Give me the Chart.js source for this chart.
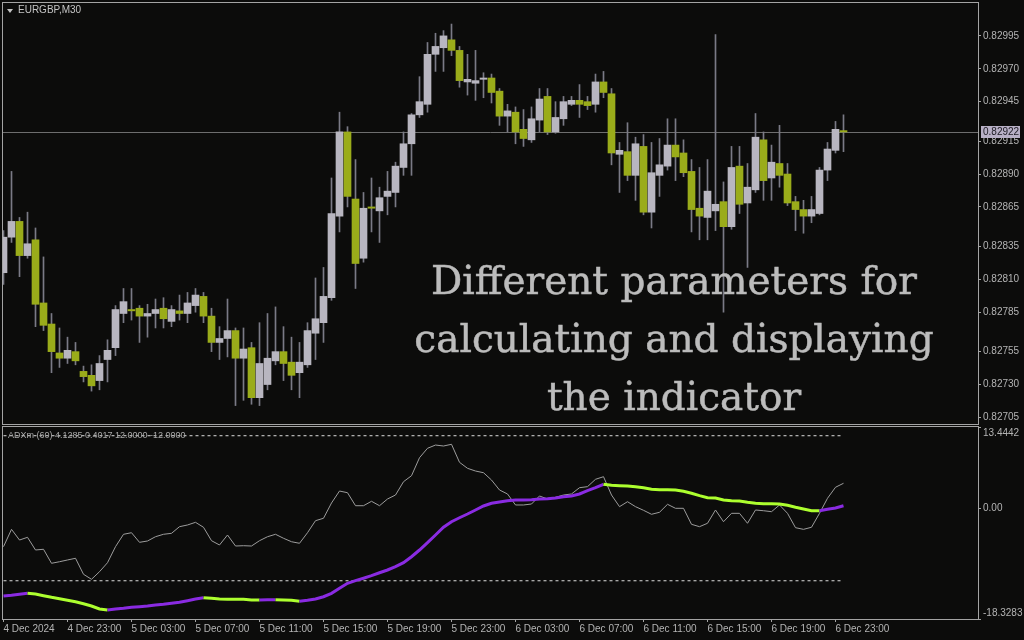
<!DOCTYPE html>
<html>
<head>
<meta charset="utf-8">
<script src="https://cdn.jsdelivr.net/npm/chart.js@4.4.1/dist/chart.umd.min.js"></script>
<style>
  html, body { margin: 0; padding: 0; background: #0c0c0b; }
  #wrap { position: relative; width: 1024px; height: 640px; overflow: hidden; background: #0c0c0b; }
  canvas { position: absolute; left: 0; }
  #main { top: 0; }
  #ind { top: 425px; }
  .sym { position: absolute; left: 18px; top: 4px; font: 10px 'Liberation Sans', Arial, sans-serif; line-height: 12px; color: #c4c4c4; }
  .tri { position: absolute; left: 7px; top: 9px; width: 0; height: 0; border-left: 3px solid transparent; border-right: 3px solid transparent; border-top: 4px solid #c4c4c4; }
  .indlbl { position: absolute; left: 8px; top: 430px; font: 9px 'Liberation Sans', Arial, sans-serif; line-height: 11px; color: #a8a8a8; }
  .caption { position: absolute; left: 374px; top: 252px; width: 600px; text-align: center; font: 39px 'DejaVu Serif', serif; line-height: 58px; color: #bcbcbc; -webkit-text-stroke: 0.5px #bcbcbc; }
</style>
</head>
<body>
<div id="wrap">
  <canvas id="main" width="1024" height="425"></canvas>
  <canvas id="ind" width="1024" height="215"></canvas>
  <div class="tri"></div>
  <div class="sym">EURGBP,M30</div>
  <div class="indlbl">ADXm (60) 4.1285 0.4017 12.0000 -12.0000</div>
  <div class="caption">Different parameters for<br>calculating and displaying<br>the indicator</div>
</div>
<script>
// EURGBP M30 candles, 4 Dec 19:00 .. 6 Dec 23:30
const opens = [
  0.82815,0.82842,0.82854,0.82828,0.82840,0.82792,0.82776,0.82754,0.82750,0.82755,
  0.82740,0.82737,0.82733,0.82749,0.82758,0.82784,0.82787,0.82788,0.82782,0.82784,
  0.82788,0.82778,0.82786,0.82784,0.82790,0.82797,0.82782,0.82762,0.82765,0.82771,
  0.82750,0.82758,0.82720,0.82730,0.82748,0.82755,0.82747,0.82739,0.82745,0.82769,
  0.82777,0.82796,0.82858,0.82922,0.82871,0.82826,0.82865,0.82862,0.82873,0.82876,
  0.82895,0.82913,0.82935,0.82943,0.82981,0.82986,0.82992,0.82984,0.82960,0.82959,
  0.82962,0.82963,0.82953,0.82934,0.82937,0.82924,0.82916,0.82931,0.82949,0.82922,
  0.82932,0.82943,0.82946,0.82945,0.82943,0.82960,0.82951,0.82905,0.82907,0.82889,
  0.82911,0.82861,0.82889,0.82896,0.82912,0.82906,0.82892,0.82864,0.82857,0.82862,
  0.82869,0.82850,0.82896,0.82868,0.82878,0.82916,0.82887,0.82898,0.82890,0.82869,
  0.82863,0.82858,0.82860,0.82893,0.82908,0.82923
];
const highs = [
  0.82847,0.82892,0.82857,0.82861,0.82849,0.82827,0.82784,0.82773,0.82766,0.82762,
  0.82744,0.82745,0.82752,0.82764,0.82790,0.82803,0.82803,0.82790,0.82791,0.82795,
  0.82796,0.82790,0.82798,0.82800,0.82803,0.82800,0.82788,0.82774,0.82795,0.82773,
  0.82773,0.82762,0.82777,0.82784,0.82789,0.82774,0.82766,0.82762,0.82777,0.82811,
  0.82819,0.82887,0.82937,0.82926,0.82901,0.82876,0.82887,0.82880,0.82892,0.82899,
  0.82922,0.82936,0.82964,0.82990,0.82997,0.82999,0.83004,0.82987,0.82981,0.82984,
  0.82967,0.82966,0.82955,0.82943,0.82941,0.82939,0.82941,0.82955,0.82955,0.82945,
  0.82949,0.82949,0.82958,0.82949,0.82966,0.82968,0.82955,0.82914,0.82929,0.82918,
  0.82920,0.82914,0.82917,0.82932,0.82932,0.82916,0.82901,0.82895,0.82901,0.82996,
  0.82884,0.82911,0.82911,0.82898,0.82936,0.82922,0.82912,0.82927,0.82898,0.82873,
  0.82870,0.82873,0.82895,0.82914,0.82930,0.82935
];
const lows = [
  0.82806,0.82838,0.82812,0.82826,0.82774,0.82771,0.82739,0.82743,0.82746,0.82745,
  0.82732,0.82725,0.82726,0.82732,0.82752,0.82777,0.82779,0.82762,0.82766,0.82773,
  0.82773,0.82774,0.82779,0.82777,0.82785,0.82777,0.82755,0.82749,0.82751,0.82714,
  0.82718,0.82715,0.82714,0.82726,0.82745,0.82733,0.82726,0.82720,0.82743,0.82749,
  0.82762,0.82794,0.82846,0.82865,0.82803,0.82823,0.82846,0.82838,0.82859,0.82865,
  0.82889,0.82889,0.82933,0.82937,0.82968,0.82968,0.82980,0.82956,0.82950,0.82946,
  0.82948,0.82944,0.82927,0.82922,0.82913,0.82911,0.82914,0.82922,0.82920,0.82921,
  0.82927,0.82942,0.82933,0.82939,0.82937,0.82948,0.82897,0.82876,0.82885,0.82870,
  0.82859,0.82849,0.82873,0.82893,0.82885,0.82888,0.82846,0.82840,0.82840,0.82847,
  0.82785,0.82848,0.82860,0.82819,0.82876,0.82870,0.82870,0.82880,0.82866,0.82847,
  0.82845,0.82853,0.82859,0.82885,0.82906,0.82907
];
const closes = [
  0.82842,0.82854,0.82828,0.82837,0.82791,0.82775,0.82755,0.82750,0.82756,0.82748,
  0.82736,0.82729,0.82746,0.82756,0.82787,0.82793,0.82786,0.82782,0.82784,0.82787,
  0.82780,0.82787,0.82784,0.82792,0.82798,0.82782,0.82762,0.82765,0.82771,0.82750,
  0.82757,0.82720,0.82746,0.82750,0.82755,0.82746,0.82737,0.82747,0.82771,0.82780,
  0.82797,0.82860,0.82922,0.82873,0.82822,0.82864,0.82864,0.82872,0.82877,0.82896,
  0.82913,0.82935,0.82945,0.82981,0.82987,0.82995,0.82984,0.82961,0.82962,0.82961,
  0.82963,0.82952,0.82934,0.82938,0.82922,0.82917,0.82932,0.82947,0.82922,0.82933,
  0.82945,0.82946,0.82943,0.82942,0.82960,0.82952,0.82906,0.82908,0.82889,0.82913,
  0.82861,0.82891,0.82897,0.82912,0.82903,0.82891,0.82863,0.82858,0.82877,0.82867,
  0.82850,0.82895,0.82867,0.82880,0.82918,0.82885,0.82899,0.82889,0.82868,0.82863,
  0.82858,0.82863,0.82893,0.82909,0.82924,0.82922
];

// ADXm(60) sub window: thin line and the thick coloured line
const diLine = [
  -6.36,-3.49,-5.26,-4.81,-6.91,-6.79,-9.11,-8.85,-8.56,-8.28,
  -10.93,-11.76,-10.50,-9.01,-6.36,-4.31,-4.05,-5.64,-5.42,-4.71,
  -4.31,-4.15,-3.05,-2.77,-2.33,-3.15,-5.37,-6.08,-4.43,-6.25,
  -6.20,-6.25,-5.37,-4.71,-4.31,-4.97,-5.54,-5.80,-4.05,-2.06,
  -1.66,0.87,2.85,2.57,0.42,0.42,1.15,0.42,1.53,2.19,
  4.39,5.38,8.36,9.92,10.46,10.30,10.58,7.60,6.61,6.16,
  5.88,4.67,3.02,2.36,0.54,0.54,0.70,2.03,1.53,1.81,
  2.19,2.36,3.40,3.57,4.79,5.22,2.19,0.26,1.08,0.26,
  -0.34,-1.00,-0.67,0.65,-0.01,-0.01,-2.66,-3.05,-2.49,-0.29,
  -2.23,-0.84,-0.84,-2.49,-0.29,-0.41,-0.57,0.54,-0.84,-3.22,
  -3.49,-3.15,-0.84,1.65,3.47,4.1285
];
const adxLine = [
  -14.52,-14.41,-14.24,-14.08,-14.19,-14.47,-14.74,-14.97,-15.23,-15.47,
  -15.80,-16.18,-16.67,-16.84,-16.67,-16.56,-16.39,-16.29,-16.18,-16.01,
  -15.90,-15.73,-15.57,-15.30,-15.02,-14.80,-14.90,-15.02,-15.04,-15.06,
  -15.08,-15.18,-15.20,-15.16,-15.13,-15.18,-15.23,-15.40,-15.23,-15.02,
  -14.64,-14.08,-13.25,-12.42,-11.99,-11.59,-11.16,-10.67,-10.22,-9.67,
  -9.01,-8.02,-6.91,-5.70,-4.43,-3.15,-2.23,-1.57,-0.95,-0.29,
  0.37,0.82,1.03,1.25,1.36,1.38,1.41,1.53,1.58,1.69,
  1.91,2.03,2.36,2.90,3.40,3.96,3.80,3.73,3.68,3.57,
  3.40,3.13,3.07,3.05,3.02,2.80,2.47,2.08,1.74,1.69,
  1.36,1.25,1.20,0.98,0.82,0.75,0.73,0.70,0.49,0.16,
  -0.13,-0.41,-0.43,-0.18,0.04,0.4017
];
const levels = [12, -12];

const priceTicks = [0.82995,0.82970,0.82945,0.82915,0.82890,0.82865,0.82835,0.82810,0.82785,0.82755,0.82730,0.82705];
const currentPrice = 0.82922;
const indTicks = [13.4442, 0, -18.3283];
const indTickLabels = ['13.4442', '0.00', '-18.3283'];
const timeTickIndex = [0,8,16,24,32,40,48,56,64,72,80,88,96,104];
const timeLabels = ['4 Dec 2024','4 Dec 23:00','5 Dec 03:00','5 Dec 07:00','5 Dec 11:00','5 Dec 15:00',
  '5 Dec 19:00','5 Dec 23:00','6 Dec 03:00','6 Dec 07:00','6 Dec 11:00','6 Dec 15:00','6 Dec 19:00','6 Dec 23:00'];

const bg = '#0c0c0b';
const frameColor = '#a4a4a4';
const upColor = '#b8b6c0';
const downColor = '#9aac1a';
const wickColor = '#7a7a86';
const axisText = '#b4b4b4';

Chart.defaults.font.family = "'Liberation Sans', Arial, sans-serif";
Chart.defaults.font.size = 10;
Chart.defaults.color = axisText;

const idx = opens.map((_, i) => i);
const xMin = -0.0625, xMax = 121.8125; // leaves the right hand shift like MT4

const framePlugin = {
  id: 'frame',
  beforeDraw(chart) {
    const ctx = chart.ctx;
    ctx.save();
    ctx.fillStyle = bg;
    ctx.fillRect(0, 0, chart.width, chart.height);
    ctx.restore();
  },
  afterDraw(chart) {
    const { ctx, chartArea: a } = chart;
    ctx.save();
    ctx.strokeStyle = frameColor;
    ctx.lineWidth = 1;
    ctx.strokeRect(a.left - 0.5, a.top - 0.5, a.right - a.left + 1, a.bottom - a.top + 1);
    ctx.restore();
  }
};

const bidPlugin = {
  id: 'bid',
  beforeDatasetsDraw(chart) {
    const { ctx, chartArea: a, scales } = chart;
    const y = Math.round(scales.y.getPixelForValue(currentPrice)) + 0.5;
    ctx.save();
    ctx.strokeStyle = '#6e6e6e';
    ctx.lineWidth = 1;
    ctx.beginPath();
    ctx.moveTo(a.left, y);
    ctx.lineTo(a.right, y);
    ctx.stroke();
    ctx.restore();
  },
  afterDraw(chart) {
    const { ctx, chartArea: a, scales } = chart;
    const y = Math.round(scales.y.getPixelForValue(currentPrice));
    ctx.save();
    ctx.fillStyle = '#b8b0c6';
    ctx.fillRect(a.right + 3, y - 6, 39, 12);
    ctx.fillStyle = '#1c1a22';
    ctx.font = "10px 'Liberation Sans', Arial, sans-serif";
    ctx.textBaseline = 'middle';
    ctx.fillText(currentPrice.toFixed(5), a.right + 5, y + 0.5);
    ctx.restore();
  }
};

new Chart(document.getElementById('main'), {
  type: 'bar',
  data: {
    datasets: [
      {
        label: 'body',
        data: idx.map(i => ({ x: i, y: [opens[i], closes[i]] })),
        backgroundColor: idx.map(i => closes[i] >= opens[i] ? upColor : downColor),
        barThickness: 7,
        minBarLength: 1,
        grouped: false,
        clip: 0,
        order: 0
      },
      {
        label: 'wick',
        data: idx.map(i => ({ x: i, y: [lows[i], highs[i]] })),
        backgroundColor: wickColor,
        barThickness: 1,
        grouped: false,
        clip: 0,
        order: 1
      }
    ]
  },
  options: {
    responsive: false,
    animation: false,
    layout: { padding: { left: 3, top: 3, right: 0, bottom: 1 } },
    plugins: { legend: { display: false }, tooltip: { enabled: false } },
    scales: {
      x: { type: 'linear', display: false, offset: false, grid: { offset: false }, min: xMin, max: xMax },
      y: {
        position: 'right',
        min: 0.82700,
        max: 0.83020,
        afterBuildTicks: s => { s.ticks = priceTicks.map(v => ({ value: v })); },
        afterFit: s => { s.width = 46; s.paddingTop = 0; s.paddingBottom = 0; },
        ticks: { padding: 2, autoSkip: false, callback: v => v.toFixed(5) },
        grid: { drawOnChartArea: false, tickLength: 3, color: frameColor },
        border: { display: false }
      }
    }
  },
  plugins: [framePlugin, bidPlugin]
});

new Chart(document.getElementById('ind'), {
  type: 'line',
  data: {
    datasets: [
      {
        label: 'ADX',
        data: idx.map(i => ({ x: i, y: adxLine[i] })),
        borderWidth: 3,
        borderColor: '#8a2be2',
        segment: { borderColor: c => c.p1.parsed.y > c.p0.parsed.y ? '#8a2be2' : '#adff2f' },
        pointRadius: 0,
        clip: 0,
        order: 0
      },
      {
        label: 'DI',
        data: idx.map(i => ({ x: i, y: diLine[i] })),
        borderColor: '#9c9c9c',
        borderWidth: 1,
        pointRadius: 0,
        clip: 0,
        order: 1
      },
      ...levels.map(l => ({
        label: 'level ' + l,
        data: [{ x: idx[0], y: l }, { x: idx[idx.length - 1], y: l }],
        borderColor: '#dcdcdc',
        borderDash: [3, 3],
        borderWidth: 1,
        pointRadius: 0,
        order: 2
      }))
    ]
  },
  options: {
    responsive: false,
    animation: false,
    layout: { padding: { left: 3, top: 2, right: 0, bottom: 0 } },
    plugins: { legend: { display: false }, tooltip: { enabled: false } },
    scales: {
      x: {
        type: 'linear',
        offset: false,
        min: xMin,
        max: xMax,
        afterBuildTicks: s => { s.ticks = timeTickIndex.map(v => ({ value: v })); },
        afterFit: s => { s.height = 21; s.paddingLeft = 0; s.paddingRight = 0; },
        ticks: { align: 'start', maxRotation: 0, autoSkip: false, padding: 1, callback: (v, i) => timeLabels[i] },
        grid: { drawOnChartArea: false, tickLength: 3, color: frameColor },
        border: { display: false }
      },
      y: {
        position: 'right',
        min: indTicks[2],
        max: indTicks[0],
        afterBuildTicks: s => { s.ticks = indTicks.map(v => ({ value: v })); },
        afterFit: s => { s.width = 46; s.paddingTop = 0; s.paddingBottom = 0; },
        ticks: {
          padding: 2,
          autoSkip: false,
          // edge labels sit inside the window, like the terminal does
          callback: (v, i) => i === 0 ? ['', indTickLabels[i]] : i === 2 ? [indTickLabels[i], ''] : indTickLabels[i]
        },
        grid: { drawOnChartArea: false, tickLength: 3, color: frameColor },
        border: { display: false }
      }
    }
  },
  plugins: [framePlugin]
});
</script>
</body>
</html>
